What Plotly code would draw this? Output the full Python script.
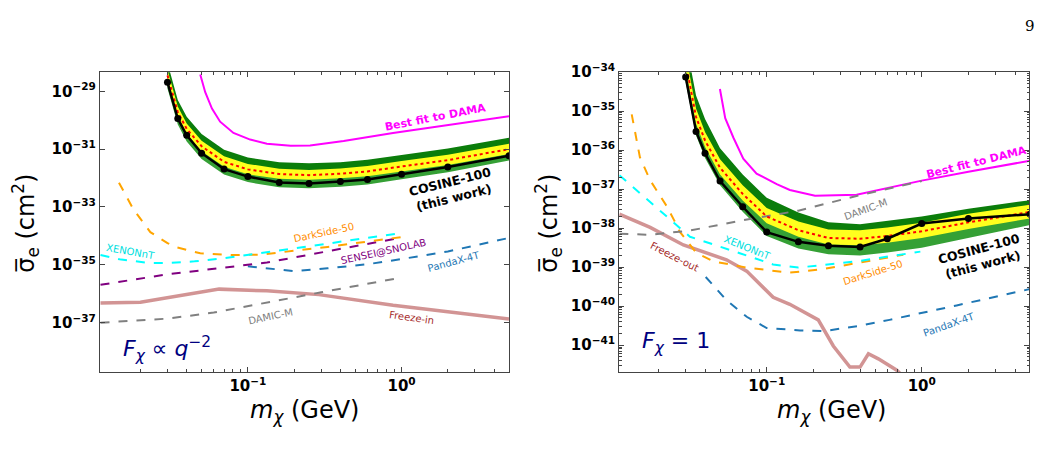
import numpy as np
import plotly.graph_objects as go

W, H = 1043, 459

# ---------------- data (log10 of cross-section) ----------------
mass = [0.03, 0.035, 0.04, 0.05, 0.07, 0.1, 0.16, 0.25, 0.4, 0.6, 1.0, 2.0, 5.0]

# Left panel: F_chi ∝ q^-2
L_obs = [-28.69, -29.94, -30.52, -31.14, -31.69, -31.95, -32.15, -32.19, -32.12, -32.05, -31.87, -31.62, -31.23]
L_med = [-28.45, -29.72, -30.30, -30.90, -31.44, -31.70, -31.86, -31.90, -31.85, -31.77, -31.60, -31.38, -31.00]
L_up1 = [-28.26, -29.53, -30.11, -30.71, -31.25, -31.51, -31.68, -31.72, -31.67, -31.58, -31.41, -31.19, -30.81]
L_lo1 = [-28.62, -29.89, -30.47, -31.07, -31.61, -31.87, -32.02, -32.06, -32.01, -31.94, -31.77, -31.55, -31.17]
L_up2 = [-28.02, -29.30, -29.88, -30.48, -31.02, -31.29, -31.45, -31.49, -31.45, -31.37, -31.20, -30.98, -30.61]
L_lo2 = [-28.90, -30.15, -30.74, -31.34, -31.88, -32.14, -32.32, -32.35, -32.30, -32.22, -32.04, -31.80, -31.39]

L_dama_m = [0.049, 0.0528, 0.0584, 0.066, 0.0806, 0.1035, 0.133, 0.19, 0.254, 0.42, 0.88, 2.4, 5.0]
L_dama = [-28.42, -29.03, -29.60, -30.05, -30.44, -30.67, -30.81, -30.88, -30.87, -30.72, -30.44, -30.10, -29.86]

L_ds_m = [0.0145, 0.018, 0.0232, 0.03, 0.0346, 0.049, 0.08, 0.12, 0.33, 1.0]
L_ds = [-32.16, -33.08, -33.87, -34.25, -34.40, -34.60, -34.66, -34.65, -34.38, -34.04]

L_xe_m = [0.011, 0.015, 0.0232, 0.03, 0.045, 0.063, 0.12, 0.33, 1.0]
L_xe = [-34.66, -34.82, -34.94, -34.94, -34.88, -34.80, -34.60, -34.27, -33.90]

L_sen_m = [0.011, 0.03, 0.133, 0.326, 0.93]
L_sen = [-35.69, -35.33, -34.92, -34.54, -34.09]

L_pdx_m = [0.1, 0.13, 0.2, 0.33, 0.6, 1.0, 2.0, 5.0]
L_pdx = [-35.05, -35.12, -35.22, -35.12, -34.98, -34.80, -34.54, -34.07]

L_dm_m = [0.011, 0.03, 0.06, 0.133, 0.3, 1.0]
L_dm = [-37.00, -36.86, -36.65, -36.30, -35.95, -35.44]

L_fi_m = [0.011, 0.02, 0.065, 0.133, 0.29, 0.88, 5.0]
L_fi = [-36.32, -36.29, -35.84, -35.90, -36.03, -36.40, -36.87]

# Right panel: F_chi = 1
R_obs = [-34.12, -35.52, -36.08, -36.79, -37.45, -38.10, -38.35, -38.45, -38.48, -38.27, -37.88, -37.75, -37.64]
R_med = [-33.75, -35.15, -35.75, -36.45, -37.12, -37.70, -38.05, -38.25, -38.27, -38.20, -38.08, -37.85, -37.58]
R_up1 = [-33.53, -34.93, -35.53, -36.23, -36.90, -37.48, -37.83, -38.03, -38.05, -37.98, -37.86, -37.63, -37.40]
R_lo1 = [-33.92, -35.32, -35.92, -36.62, -37.29, -37.87, -38.22, -38.42, -38.44, -38.37, -38.25, -38.02, -37.75]
R_up2 = [-33.20, -34.60, -35.20, -35.95, -36.62, -37.22, -37.60, -37.85, -37.90, -37.82, -37.70, -37.50, -37.28]
R_lo2 = [-34.25, -35.62, -36.20, -36.90, -37.58, -38.20, -38.52, -38.67, -38.70, -38.62, -38.50, -38.25, -37.92]

R_dama_m = [0.0499, 0.054, 0.061, 0.0706, 0.086, 0.116, 0.141, 0.205, 0.38, 1.0, 2.0, 5.0]
R_dama = [-34.43, -35.18, -35.68, -36.22, -36.60, -36.87, -37.02, -37.17, -37.14, -36.78, -36.55, -36.27]

R_dm_m = [0.0112, 0.0177, 0.032, 0.067, 0.16, 0.4, 1.0]
R_dm = [-38.14, -38.17, -38.06, -37.81, -37.55, -37.15, -36.79]

R_ds_m = [0.01346, 0.0152, 0.0177, 0.0226, 0.0253, 0.0276, 0.0353, 0.0453, 0.0743, 0.14, 0.23, 0.38, 0.76]
R_ds = [-35.08, -36.18, -36.77, -37.43, -37.80, -38.10, -38.64, -38.85, -39.01, -39.14, -39.05, -38.89, -38.68]

R_xe_m = [0.0112, 0.0152, 0.0249, 0.032, 0.067, 0.11, 0.16, 0.38, 0.98]
R_xe = [-36.64, -37.10, -37.85, -38.22, -38.64, -38.93, -39.01, -38.85, -38.60]

R_pdx_m = [0.0404, 0.0552, 0.0743, 0.1, 0.164, 0.232, 0.4, 0.62, 1.68, 5.0]
R_pdx = [-39.25, -39.85, -40.27, -40.56, -40.62, -40.64, -40.50, -40.35, -39.98, -39.56]

R_fo_m = [0.0112, 0.0177, 0.029, 0.0353, 0.055, 0.0743, 0.11, 0.141, 0.215, 0.269, 0.344, 0.40, 0.453, 0.525, 0.69, 0.78]
R_fo = [-37.64, -37.98, -38.43, -38.55, -38.81, -39.10, -39.77, -39.95, -40.35, -41.02, -41.56, -41.56, -41.22, -41.35, -41.64, -41.85]

L_yticks = [-29, -31, -33, -35, -37]
R_yticks = [-34, -35, -36, -37, -38, -39, -40, -41]
x_ticks = [-1, 0]

# ---------------- figure ----------------
fig = go.Figure()
FONT = "DejaVu Sans"


def p(v):
    return [10.0 ** t for t in v]


def add_panel(xa, ya, obs, med, up1, lo1, up2, lo2):
    common = dict(xaxis=xa, yaxis=ya, showlegend=False, hoverinfo="skip", mode="lines")
    fig.add_trace(go.Scatter(x=mass, y=p(lo2), line=dict(width=0, color="rgba(0,0,0,0)"), **common))
    fig.add_trace(go.Scatter(x=mass, y=p(med), fill="tonexty", fillcolor="#35a035",
                             line=dict(width=0, color="rgba(0,0,0,0)"), **common))
    fig.add_trace(go.Scatter(x=mass, y=p(up2), fill="tonexty", fillcolor="#0b7d0b",
                             line=dict(width=0, color="rgba(0,0,0,0)"), **common))
    fig.add_trace(go.Scatter(x=mass, y=p(lo1), line=dict(width=0, color="rgba(0,0,0,0)"), **common))
    fig.add_trace(go.Scatter(x=mass, y=p(up1), fill="tonexty", fillcolor="#ffff1e",
                             line=dict(width=0, color="rgba(0,0,0,0)"), **common))


def line(xa, ya, xm, yv, color, width=2.0, dash="dash"):
    fig.add_trace(go.Scatter(x=xm, y=p(yv), mode="lines", xaxis=xa, yaxis=ya, showlegend=False,
                             hoverinfo="skip", line=dict(color=color, width=width, dash=dash)))


# left panel other experiments (drawn under band)
line("x", "y", L_fi_m, L_fi, "rgba(165,42,42,0.5)", 3.5, "solid")
line("x", "y", L_dm_m, L_dm, "#808080", 2.0)
line("x", "y", L_pdx_m, L_pdx, "#1f77b4", 2.0)
line("x", "y", L_sen_m, L_sen, "#800080", 2.0)
line("x", "y", L_ds_m, L_ds, "#ffa500", 2.0)
line("x", "y", L_xe_m, L_xe, "#00ffff", 2.0)
line("x", "y", L_dama_m, L_dama, "#ff00ff", 2.0, "solid")
add_panel("x", "y", L_obs, L_med, L_up1, L_lo1, L_up2, L_lo2)
line("x", "y", mass, L_med, "red", 2.0, "dot")
fig.add_trace(go.Scatter(x=mass, y=p(L_obs), mode="lines+markers", xaxis="x", yaxis="y", showlegend=False,
                         hoverinfo="skip", line=dict(color="black", width=2.5),
                         marker=dict(color="black", size=7)))

# right panel
line("x2", "y2", R_fo_m, R_fo, "rgba(165,42,42,0.5)", 3.5, "solid")
line("x2", "y2", R_pdx_m, R_pdx, "#1f77b4", 2.0)
line("x2", "y2", R_ds_m, R_ds, "#ffa500", 2.0)
line("x2", "y2", R_xe_m, R_xe, "#00ffff", 2.0)
line("x2", "y2", R_dama_m, R_dama, "#ff00ff", 2.0, "solid")
add_panel("x2", "y2", R_obs, R_med, R_up1, R_lo1, R_up2, R_lo2)
line("x2", "y2", R_dm_m, R_dm, "#808080", 2.0)
line("x2", "y2", mass, R_med, "red", 2.0, "dot")
fig.add_trace(go.Scatter(x=mass, y=p(R_obs), mode="lines+markers", xaxis="x2", yaxis="y2", showlegend=False,
                         hoverinfo="skip", line=dict(color="black", width=2.5),
                         marker=dict(color="black", size=7)))


def tick_text(e):
    s = str(e).replace("-", "\u2212")
    return "<b>10<sup>%s</sup></b>" % s


def minor_vals(lo, hi):
    vals = []
    for d in range(lo, hi + 1):
        for k in range(2, 10):
            vals.append(k * 10.0 ** d)
    return vals


AXCOL = "#444444"
base_axis = dict(type="log", showline=True, linecolor=AXCOL, linewidth=1.3, mirror="ticks",
                 ticks="inside", ticklen=5, tickwidth=1, tickcolor=AXCOL, showgrid=False, zeroline=False,
                 tickfont=dict(family=FONT, size=15, color="black"), tickmode="array")

xr = [-1.962, 0.699]
x_minor = dict(tickmode="array", tickvals=minor_vals(-2, 0), ticks="inside", ticklen=3,
               tickcolor=AXCOL, showgrid=False)

fig.update_layout(
    width=W, height=H, margin=dict(l=0, r=0, t=0, b=0),
    paper_bgcolor="white", plot_bgcolor="white",
    xaxis=dict(base_axis, domain=[100 / W, 509 / W], range=xr, anchor="y",
               tickvals=[10.0 ** e for e in x_ticks], ticktext=[tick_text(e) for e in x_ticks],
               minor=x_minor),
    yaxis=dict(base_axis, domain=[1 - 370 / H, 1 - 62.7 / H], range=[-38.71, -28.34], anchor="x",
               tickvals=[10.0 ** e for e in L_yticks], ticktext=[tick_text(e) for e in L_yticks]),
    xaxis2=dict(base_axis, domain=[619.3 / W, 1029.3 / W], range=[-1.951, 0.694], anchor="y2",
                tickvals=[10.0 ** e for e in x_ticks], ticktext=[tick_text(e) for e in x_ticks],
                minor=x_minor),
    yaxis2=dict(base_axis, domain=[1 - 370 / H, 1 - 62.7 / H], range=[-41.69, -34.0], anchor="x2",
                tickvals=[10.0 ** e for e in R_yticks], ticktext=[tick_text(e) for e in R_yticks],
                minor=dict(tickmode="array", tickvals=minor_vals(-42, -35), ticks="inside", ticklen=2.5,
                           tickcolor=AXCOL, showgrid=False)),
)

ann = []


def A(px, py, text, color="black", size=10, angle=0, family=FONT, align="center"):
    ann.append(dict(x=px / W, y=1 - py / H, xref="paper", yref="paper", text=text, showarrow=False,
                    font=dict(family=family, size=size, color=color), textangle=angle,
                    xanchor="center", yanchor="middle", align=align))


# axis titles
ytitle = "\u03c3\u0305<sub>e</sub> (cm<sup>2</sup>)"
xtitle = "<i>m</i><sub><i>\u03c7</i></sub> (GeV)"
A(26, 218, ytitle, size=24, angle=-90)
A(549, 218, ytitle, size=24, angle=-90)
A(304, 410, xtitle, size=24)
A(831, 410, xtitle, size=24)

# left labels
A(435, 109, "<b>Best fit to DAMA</b>", "#ff00ff", 11, -11)
A(452, 183, "<b>COSINE-100<br>(this work)</b>", "black", 12.5, -14)
A(324, 227, "DarkSide-50", "#ff8c00", 10, -12)
A(130, 246, "XENONnT", "#00dede", 10, 10)
A(383, 246, "SENSEI@SNOLAB", "#800080", 10, -12.5)
A(454, 257, "PandaX-4T", "#1f77b4", 10, -15)
A(270, 313, "DAMIC-M", "#808080", 10, -12)
A(411, 314, "Freeze-in", "#a52a2a", 10, 8)
A(167, 346, "<i>F</i><sub><i>\u03c7</i></sub> \u221d <i>q</i><sup>\u22122</sup>", "#000080", 22)

# right labels
A(976, 155, "<b>Best fit to DAMA</b>", "#ff00ff", 11, -14)
A(865, 203, "DAMIC-M", "#808080", 10, -20)
A(981, 252, "<b>COSINE-100<br>(this work)</b>", "black", 12.5, -15)
A(747, 242, "XENONnT", "#00dede", 10, 22)
A(873, 268, "DarkSide-50", "#ff8c00", 10, -17.5)
A(949, 321, "PandaX-4T", "#1f77b4", 10, -19.5)
A(674, 252, "Freeze-out", "#a52a2a", 10, 27)
A(676, 340, "<i>F</i><sub><i>\u03c7</i></sub> = 1", "#000080", 22)

# page number
A(1030, 15, "9", "black", 15, 0, "DejaVu Serif")

fig.update_layout(annotations=ann)
fig.write_html("out.html")
